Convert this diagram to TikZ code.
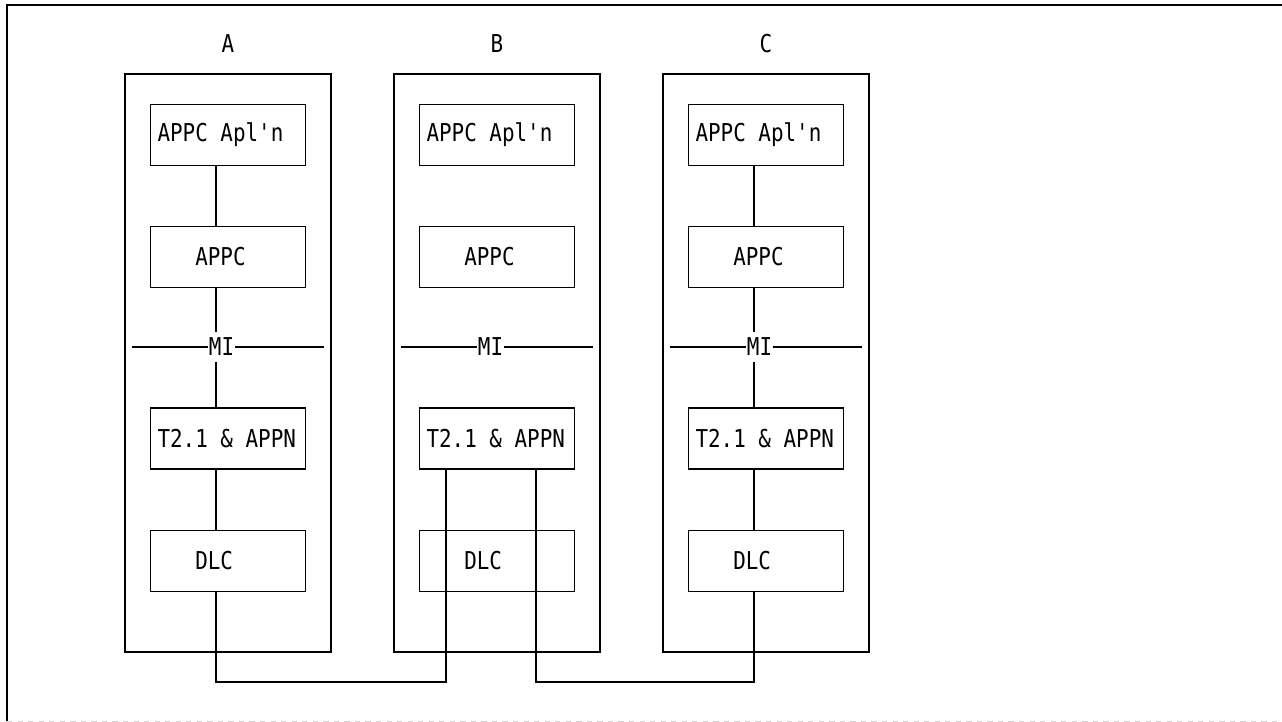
\documentclass[tikz,border=0pt]{standalone}
\usepackage{fontspec}
\usepackage{tikz}
\newfontfamily\ibmfont[FakeStretch=0.85]{DejaVu Sans Mono}
\tikzset{
  layer/.style={draw,line width=1pt,minimum width=3.1cm,minimum height=1.22cm,
    inner ysep=0pt,inner xsep=0.14cm,text width=2.82cm,align=left},
  column/.style={draw,line width=1pt,minimum width=4.12cm,minimum height=11.56cm,inner sep=0pt},
  wire/.style={line width=1pt}
}
% one character cell of the mono font
\newcommand{\gap}{\hphantom{A}}
\newcommand{\tab}{\hphantom{APP}}

\begin{document}
\begin{tikzpicture}[x=0.02cm,y=-0.02cm,font=\ibmfont\fontsize{14}{16}\selectfont]
  \useasboundingbox (0,0) rectangle (1282,722);
  % frame
  \draw[wire] (7,721) -- (7,5) -- (1282,5);
  \draw[gray!35,dashed] (7,721) -- (1282,721);
  \foreach \n/\cx in {A/228,B/497,C/766} {
    \node[column] (\n) at (\cx,363) {};
    \node (\n-lbl) at (\cx,44) {\n};
    \node[layer] (\n-apl) at (\cx,135) {APPC\gap Apl'n};
    \node[layer] (\n-appc) at (\cx,257) {\tab APPC};
    \node[layer] (\n-t21) at (\cx,438.5) {T2.1\gap\&\gap APPN};
    \node[layer] (\n-dlc) at (\cx,561) {\tab DLC};
    \node[inner xsep=0.5pt,inner ysep=3pt] (\n-mi) at (\cx-6.5,347) {MI};
    \coordinate (\n-l) at (\cx-96,347);
    \coordinate (\n-r) at (\cx+96,347);
    \coordinate (\n-v) at (\cx-12,0);
    \draw[wire] (\n-l) -- (\n-mi.west);
    \draw[wire] (\n-mi.east) -- (\n-r);
  }
  % stack links in A and C
  \foreach \n in {A,C} {
    \draw[wire] (\n-apl.south -| \n-v) -- (\n-appc.north -| \n-v);
    \draw[wire] (\n-appc.south -| \n-v) -- (\n-mi.north -| \n-v);
    \draw[wire] (\n-mi.south -| \n-v) -- (\n-t21.north -| \n-v);
    \draw[wire] (\n-t21.south -| \n-v) -- (\n-dlc.north -| \n-v);
  }
  % links between nodes
  \coordinate (bus) at (0,682);
  \coordinate (B-p) at (446,0);
  \coordinate (B-q) at (536,0);
  \draw[wire] (A-dlc.south -| A-v) -- (A-v |- bus) -- (B-p |- bus) -- (B-t21.south -| B-p);
  \draw[wire] (B-t21.south -| B-q) -- (B-q |- bus) -- (C-v |- bus) -- (C-dlc.south -| C-v);
\end{tikzpicture}
\end{document}
